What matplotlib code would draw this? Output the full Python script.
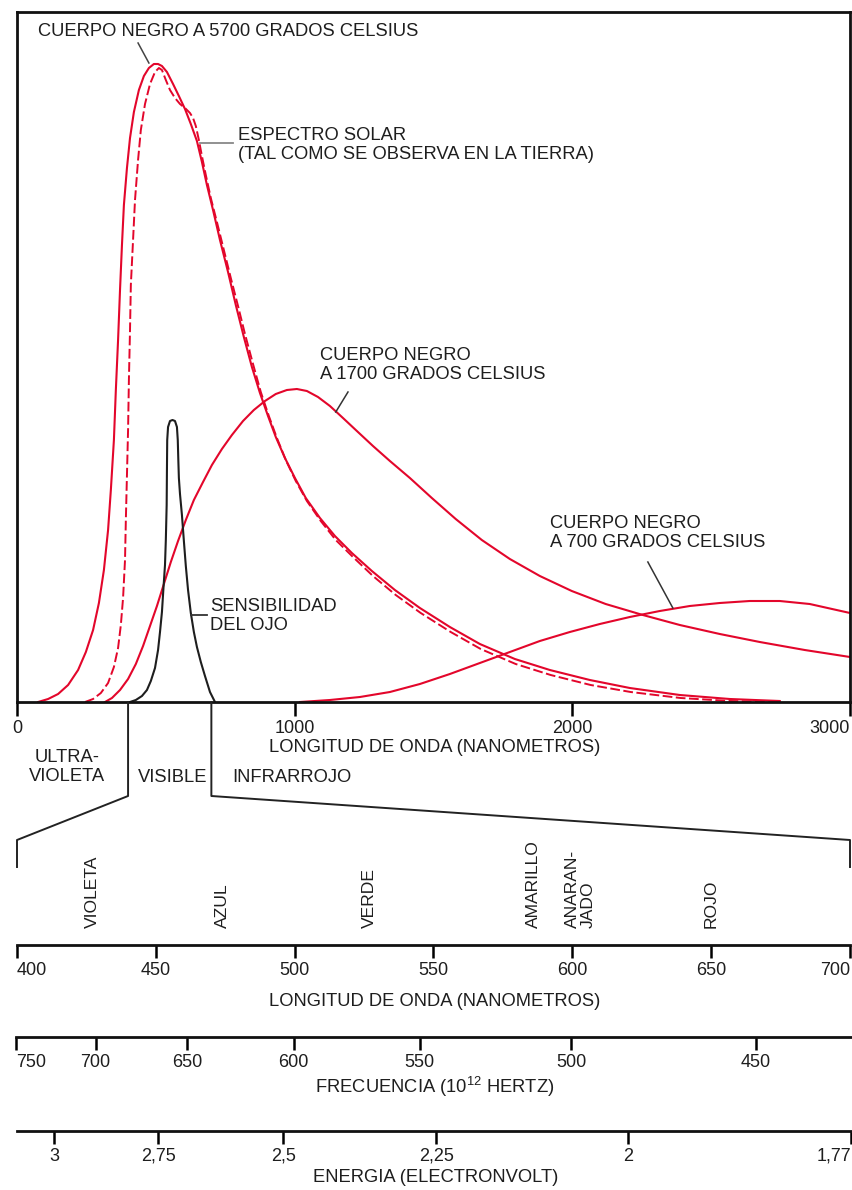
import matplotlib
matplotlib.use('Agg')
import matplotlib.pyplot as plt

plt.rcParams['font.family'] = ['Liberation Sans', 'DejaVu Sans']
plt.rcParams['mathtext.fontset'] = 'custom'
plt.rcParams['mathtext.rm'] = 'Liberation Sans'
plt.rcParams['mathtext.default'] = 'regular'

W, H = 853, 1190
RED = '#e3062b'
INK = '#1e1e1e'
FS = 13.2
TFS = 13

# --- curves: wavelength (nm) and relative intensity (arbitrary units) ---
bb5700_nm = [76, 112, 148, 184, 220, 248, 274, 295, 313, 328, 338, 349, 356, 364, 371, 378, 385, 396, 407, 421,
             439, 457, 475, 493, 508, 522, 540, 562, 583, 605, 626, 648, 666, 684, 706, 731, 760, 788, 817, 846,
             875, 904, 932, 965, 1001, 1040, 1091, 1145, 1206, 1278, 1361, 1451, 1559, 1667, 1793, 1919, 2063,
             2207, 2387, 2567, 2747]
bb5700_val = [0, 3, 8, 17, 32, 50, 72, 99, 132, 172, 212, 262, 312, 362, 412, 457, 497, 534, 564, 590,
              612, 626, 634, 638, 638, 636, 630, 618, 606, 593, 578, 561, 540, 517, 492, 462, 430, 397, 365, 335,
              309, 286, 265, 244, 224, 204, 184, 166, 149, 131, 112, 94, 75, 58, 43, 32, 22,
              14, 7, 3, 1]

solar_nm = [245, 274, 302, 328, 349, 364, 374, 382, 389, 392, 396, 400, 403, 407, 410, 418, 425, 436, 446, 461,
            479, 497, 511, 522, 536, 551, 569, 587, 605, 623, 634, 644, 655, 666, 680, 698, 720, 745, 770, 796,
            821, 850, 878, 907, 936, 968, 1004, 1044, 1094, 1148, 1210, 1282, 1364, 1454, 1562, 1670, 1796, 1922,
            2066, 2210, 2390, 2567, 2747]
solar_val = [0, 3, 9, 19, 35, 54, 77, 104, 142, 182, 227, 272, 322, 372, 417, 462, 502, 542, 572, 598,
             618, 630, 634, 632, 622, 612, 604, 598, 594, 589, 584, 576, 562, 546, 527, 504, 480, 452, 424, 396,
             368, 338, 310, 286, 264, 242, 221, 201, 181, 162, 145, 126, 107, 89, 70, 53, 38, 27,
             17, 10, 4, 1, 0]

bb1700_nm = [317, 342, 371, 400, 428, 454, 479, 504, 529, 554, 580, 608, 637, 670, 702, 738, 774, 814, 853, 893,
             932, 972, 1008, 1044, 1084, 1127, 1174, 1224, 1282, 1343, 1415, 1494, 1580, 1674, 1775, 1883, 1998,
             2120, 2254, 2387, 2531, 2675, 2837, 3000]
bb1700_val = [0, 4, 12, 23, 38, 56, 76, 96, 118, 140, 161, 182, 202, 220, 237, 253, 267, 281, 292, 301,
              308, 312, 313, 311, 305, 296, 284, 271, 256, 241, 224, 204, 183, 162, 143, 126, 111,
              98, 87, 77, 68, 60, 52, 45]

bb700_nm = [1019, 1127, 1235, 1343, 1451, 1559, 1667, 1775, 1883, 1991, 2099, 2207, 2315, 2423, 2531, 2639,
            2747, 2855, 3000]
bb700_val = [0, 2, 5, 10, 18, 28, 39, 50, 61, 70, 78, 85, 91, 96, 99, 101, 101, 98, 89]

eye_nm = [407, 428, 450, 468, 482, 497, 508, 515, 522, 527, 533, 536, 539, 540, 541, 544, 551, 560, 569, 576,
          579, 581, 583, 587, 594, 601, 608, 616, 626, 637, 648, 662, 677, 695, 713]
eye_val = [0, 2, 6, 12, 21, 34, 52, 70, 90, 112, 137, 162, 197, 232, 262, 275, 281, 282, 281, 275,
           262, 242, 224, 208, 187, 161, 136, 112, 89, 70, 55, 40, 26, 10, 0]

main_ticks = [0, 1000, 2000, 3000]

# --- visible-band scales ---
wl_ticks = [400, 450, 500, 550, 600, 650, 700]
freq_ticks = [750, 700, 650, 600, 550, 500, 450]          # 10^12 Hz
energy_ticks = [3, 2.75, 2.5, 2.25, 2, 1.77]              # eV
energy_labels = ['3', '2,75', '2,5', '2,25', '2', '1,77']
colour_names = ['VIOLETA', 'AZUL', 'VERDE', 'AMARILLO', 'ANARAN-\nJADO', 'ROJO']
colour_nm = [427, 474, 527, 586, 603, 650]

C_NM_THZ = 299792.458
HC_EV_NM = 1239.84


def px_axes(left, top, right, bottom):
    return fig.add_axes([left / W, 1 - bottom / H, (right - left) / W, (bottom - top) / H])


def ftext(x, y, s, **kw):
    kw.setdefault('color', INK)
    kw.setdefault('fontsize', FS)
    fig.text(x / W, 1 - y / H, s, **kw)


def nm_at(px):
    return 400 + (px - 17) * 300 / 833


fig = plt.figure(figsize=(W / 100, H / 100), dpi=100)

# ---------------- main spectrum panel ----------------
ax = px_axes(17, 12, 850, 702)
ax.plot(bb5700_nm, bb5700_val, color=RED, lw=1.5, solid_joinstyle='round')
ax.plot(solar_nm, solar_val, color=RED, lw=1.4, dashes=(5, 1.8))
ax.plot(bb1700_nm, bb1700_val, color=RED, lw=1.5, solid_joinstyle='round')
ax.plot(bb700_nm, bb700_val, color=RED, lw=1.5, solid_joinstyle='round')
ax.plot(eye_nm, eye_val, color=INK, lw=1.5, solid_joinstyle='round')
ax.set_xlim(0, 3000)
ax.set_ylim(0, 690)
ax.set_yticks([])
ax.set_xticks(main_ticks)
ax.set_xticklabels([str(t) for t in main_ticks])
ax.get_xticklabels()[-1].set_ha('right')
ax.tick_params(axis='x', direction='out', length=10, width=1.8, labelsize=TFS, labelcolor=INK, pad=3)
for s in ax.spines.values():
    s.set_linewidth(2.0)
    s.set_color('#111111')

kw = dict(color=INK, fontsize=FS, va='center', linespacing=1.2)
ax.text(76, 670, 'CUERPO NEGRO A 5700 GRADOS CELSIUS', **kw)
ax.text(796, 557, 'ESPECTRO SOLAR\n(TAL COMO SE OBSERVA EN LA TIERRA)', **kw)
ax.text(1091, 337, 'CUERPO NEGRO\nA 1700 GRADOS CELSIUS', **kw)
ax.text(1919, 169, 'CUERPO NEGRO\nA 700 GRADOS CELSIUS', **kw)
ax.text(695, 86, 'SENSIBILIDAD\nDEL OJO', **kw)

ax.plot([436, 475], [659, 639], color='#444444', lw=1.1)
ax.plot([660, 778], [559, 559], color='#888888', lw=1.3)
ax.plot([1192, 1148], [310, 290], color='#333333', lw=1.1)
ax.plot([2272, 2362], [140, 94], color='#333333', lw=1.1)
ax.plot([628, 684], [87, 87], color='#333333', lw=1.3)

ftext(435, 748, 'LONGITUD DE ONDA (NANOMETROS)', ha='center', va='center')
ftext(67, 767, 'ULTRA-\nVIOLETA', ha='center', va='center', multialignment='center', linespacing=1.2)
ftext(138, 777, 'VISIBLE', ha='left', va='center')
ftext(232, 777, 'INFRARROJO', ha='left', va='center')

# ---------------- wavelength scale of visible band ----------------
axw = px_axes(17, 840, 850, 945)
axw.set_xlim(400, 700)
axw.set_ylim(0, 105)
axw.set_xticks(wl_ticks)
axw.set_xticklabels([str(t) for t in wl_ticks])
labs = axw.get_xticklabels()
labs[0].set_ha('left')
labs[-1].set_ha('right')
for nm, name in zip(colour_nm, colour_names):
    axw.text(nm, 17, name, rotation=90, ha='center', va='bottom', multialignment='left',
             color=INK, fontsize=12.6, linespacing=1.05)
ftext(435, 1002, 'LONGITUD DE ONDA (NANOMETROS)', ha='center', va='center')

# ---------------- frequency scale ----------------
axf = px_axes(16, 1000, 853, 1037)
axf.set_xlim(nm_at(16), nm_at(853))
axf.set_xticks([C_NM_THZ / f for f in freq_ticks])
axf.set_xticklabels([str(f) for f in freq_ticks])
axf.get_xticklabels()[0].set_ha('left')
ftext(435, 1087, r'FRECUENCIA (10$^{12}$ HERTZ)', ha='center', va='center')

# ---------------- energy scale ----------------
axe = px_axes(17, 1090, 853, 1131)
axe.set_xlim(nm_at(17), nm_at(853))
axe.set_xticks([HC_EV_NM / e for e in energy_ticks])
axe.set_xticklabels(energy_labels)
axe.get_xticklabels()[-1].set_ha('right')
ftext(436, 1177, 'ENERGIA (ELECTRONVOLT)', ha='center', va='center')

for a in (axw, axf, axe):
    a.set_yticks([])
    a.patch.set_visible(False)
    for side in ('left', 'right', 'top'):
        a.spines[side].set_visible(False)
    a.spines['bottom'].set_linewidth(2.0)
    a.spines['bottom'].set_color('#111111')
    a.tick_params(axis='x', direction='out', length=9, width=1.8, labelsize=TFS, labelcolor=INK, pad=3)

# ---------------- bracket linking visible band to the scale ----------------
ov = fig.add_axes([0, 0, 1, 1])
ov.set_xlim(0, W)
ov.set_ylim(H, 0)
ov.axis('off')
x400 = 17 + 400 * 833 / 3000
x700 = 17 + 700 * 833 / 3000
ov.plot([x400, x400, 17, 17], [702, 796, 840, 867], color='#222222', lw=1.4)
ov.plot([x700, x700, 850, 850], [702, 796, 840, 867], color='#222222', lw=1.4)

fig.savefig('out.png', dpi=100)
